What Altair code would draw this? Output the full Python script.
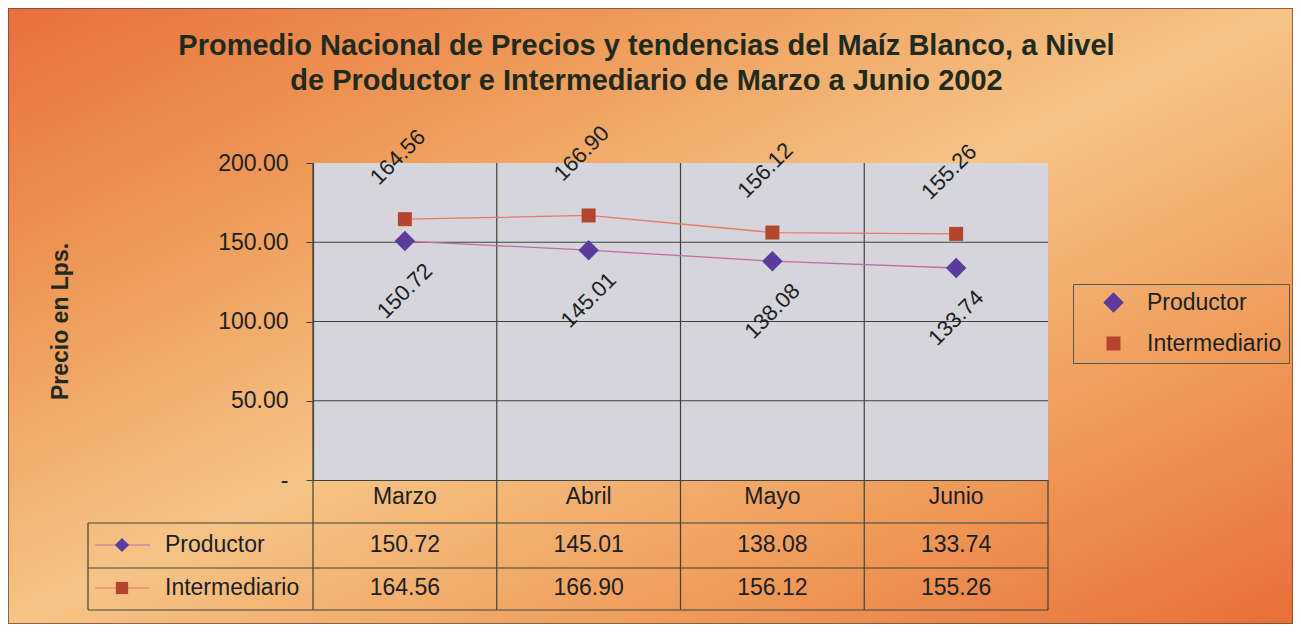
import altair as alt
import pandas as pd

# ---------------- data ----------------
months = ["Marzo", "Abril", "Mayo", "Junio"]
productor = [150.72, 145.01, 138.08, 133.74]
intermediario = [164.56, 166.90, 156.12, 155.26]
series = ["Productor", "Intermediario"]
y_ticks = [0, 50, 100, 150, 200]
grid_values = [50, 100, 150]

title_lines = [
    "Promedio Nacional de Precios y tendencias del Maíz Blanco, a Nivel",
    "de Productor e Intermediario de Marzo a Junio 2002",
]

# ---------------- layout / style ----------------
W, H = 735, 317
PAD_L, PAD_T, PAD_R, PAD_B = 305, 155, 245, 144
FONT = "Liberation Sans"
TXT = "#1c1f24"
GRID = "#3d443d"
FS = 23
NB = "\u00a0"

marker_colors = ["#5b3c9c", "#b5442e"]
line_colors = ["#c46aa8", "#e57b66"]
shapes = ["diamond", "square"]
marker_sizes = [420, 196]

# table geometry (pixels relative to plot area)
ROW_Y = {"Productor": 382, "Intermediario": 425}
TABLE_LINES_Y = [360, 405, 447]
TABLE_LEFT = -225
TABLE_BOTTOM = 447

rows = []
for i, m in enumerate(months):
    rows.append({"mes": m, "serie": "Productor", "precio": productor[i]})
    rows.append({"mes": m, "serie": "Intermediario", "precio": intermediario[i]})
df = pd.DataFrame(rows)
grid_df = pd.DataFrame({"precio": grid_values})
one = pd.DataFrame({"k": [0]})

x_scale = alt.Scale(domain=months, paddingInner=0, paddingOuter=0)
y_scale = alt.Scale(domain=[0, 200], nice=False, zero=True)

X_AX = alt.X(
    "mes:N", sort=months, scale=x_scale,
    axis=alt.Axis(title=None, labelAngle=0, labelFontSize=FS, labelFont=FONT,
                  labelColor=TXT, labelPadding=16, ticks=False, grid=False,
                  bandPosition=0.5, labelAlign="center",
                  domain=True, domainColor=GRID, domainWidth=1.2, zindex=1),
)
Y_AX = alt.Y(
    "precio:Q", scale=y_scale,
    axis=alt.Axis(values=y_ticks,
                  labelExpr="datum.value == 0 ? '-" + NB * 4 + "' : format(datum.value, '.2f')",
                  labelFontSize=FS, labelFont=FONT, labelColor=TXT, labelPadding=18,
                  tickSize=7, tickColor=GRID, domainColor=GRID, domainWidth=1.2,
                  grid=False, zindex=1,
                  title="Precio en Lps.", titleFont=FONT, titleFontSize=23,
                  titleFontWeight="bold", titleColor="#1f2b1f",
                  titleAngle=270, titleX=-253, titleY=158,
                  titleAlign="center", titleBaseline="middle"),
)
X = alt.X("mes:N", sort=months, scale=x_scale)
Y = alt.Y("precio:Q", scale=y_scale)

# background gradient
bg = alt.Chart(one).mark_rect(
    color=alt.LinearGradient(
        gradient="linear", x1=0, y1=0, x2=1, y2=1,
        stops=[alt.GradientStop(offset=0, color="#e8703a"),
               alt.GradientStop(offset=0.25, color="#ee9a58"),
               alt.GradientStop(offset=0.5, color="#f5c486"),
               alt.GradientStop(offset=0.75, color="#ef9c5a"),
               alt.GradientStop(offset=1, color="#e86e38")]),
    stroke="#6b4a30", strokeWidth=1.5,
).encode(x=alt.value(-PAD_L), x2=alt.value(W + PAD_R),
         y=alt.value(-PAD_T), y2=alt.value(H + PAD_B))

plot_bg = alt.Chart(one).mark_rect(color="#d5d5db").encode(
    x=alt.value(0), x2=alt.value(W), y=alt.value(0), y2=alt.value(H))

hgrid = alt.Chart(grid_df).mark_rule(color=GRID, strokeWidth=1.2).encode(
    y=Y, x=alt.value(0), x2=alt.value(W))

vrules = alt.Chart(df[df.serie == "Productor"]).mark_rule(color=GRID, strokeWidth=1.2).encode(
    x=alt.X("mes:N", sort=months, scale=x_scale, bandPosition=0),
    y=alt.value(0), y2=alt.value(TABLE_BOTTOM))

right_rule = alt.Chart(one).mark_rule(color=GRID, strokeWidth=1.2).encode(
    x=alt.value(W), y=alt.value(H), y2=alt.value(TABLE_BOTTOM))
left_rule = alt.Chart(one).mark_rule(color=GRID, strokeWidth=1.2).encode(
    x=alt.value(TABLE_LEFT), y=alt.value(TABLE_LINES_Y[0]), y2=alt.value(TABLE_BOTTOM))
table_hlines = [
    alt.Chart(one).mark_rule(color=GRID, strokeWidth=1.2).encode(
        x=alt.value(TABLE_LEFT), x2=alt.value(W), y=alt.value(yy))
    for yy in TABLE_LINES_Y
]

layers = [bg, plot_bg, hgrid, vrules, right_rule, left_rule] + table_hlines

# series lines (carry the axes)
for s, lc in zip(series, line_colors):
    layers.append(
        alt.Chart(df).transform_filter(alt.datum.serie == s)
        .mark_line(color=lc, strokeWidth=1.3)
        .encode(x=X_AX, y=Y_AX)
    )

# markers (with legend)
points = alt.Chart(df).mark_point(filled=True, opacity=1, strokeWidth=0).encode(
    x=X, y=Y,
    color=alt.Color("serie:N", scale=alt.Scale(domain=series, range=marker_colors),
                    legend=alt.Legend(title=None, orient="none", legendX=760, legendY=121,
                                      strokeColor="#5a5a50", padding=7, labelFont=FONT,
                                      labelFontSize=FS, labelColor=TXT, symbolSize=170,
                                      rowPadding=17, symbolOffset=22, labelOffset=22,
                                      symbolStrokeWidth=0)),
    shape=alt.Shape("serie:N", scale=alt.Scale(domain=series, range=shapes), legend=None),
    size=alt.Size("serie:N", scale=alt.Scale(domain=series, range=marker_sizes), legend=None),
)
layers.append(points)

# data labels
label_offsets = {"Productor": (0, 50), "Intermediario": (-7, -62)}
for s in series:
    dx, dy = label_offsets[s]
    layers.append(
        alt.Chart(df).transform_filter(alt.datum.serie == s)
        .mark_text(angle=315, fontSize=22, font=FONT, color=TXT, xOffset=dx, yOffset=dy,
                   align="center", baseline="middle")
        .encode(x=X, y=Y, text=alt.Text("precio:Q", format=".2f"))
    )

# data table values
for s in series:
    layers.append(
        alt.Chart(df).transform_filter(alt.datum.serie == s)
        .mark_text(fontSize=FS, font=FONT, color=TXT, align="center", baseline="middle")
        .encode(x=X, y=alt.value(ROW_Y[s]), text=alt.Text("precio:Q", format=".2f"))
    )

# data table row headers with series keys
for s, lc, mc, shp in zip(series, line_colors, marker_colors, shapes):
    sub = df[(df.serie == s) & (df.mes == months[0])]
    layers.append(alt.Chart(sub).mark_text(fontSize=FS, font=FONT, color=TXT, align="left",
                                           baseline="middle")
                  .encode(x=alt.value(-148), y=alt.value(ROW_Y[s]), text="serie:N"))
    layers.append(alt.Chart(sub).mark_rule(color=lc, strokeWidth=1.2)
                  .encode(x=alt.value(-218), x2=alt.value(-163), y=alt.value(ROW_Y[s])))
    layers.append(alt.Chart(sub).mark_point(shape=shp, filled=True, opacity=1, color=mc,
                                            size=200 if shp == "diamond" else 150, strokeWidth=0)
                  .encode(x=alt.value(-191), y=alt.value(ROW_Y[s])))

chart = alt.layer(*layers).properties(
    width=W, height=H,
    title=alt.TitleParams(text=title_lines, font=FONT, fontSize=29, fontWeight="bold",
                          color="#1f2b1f", lineHeight=35, anchor="middle", dx=-34,
                          offset=0, dy=89),
    autosize=alt.AutoSizeParams(type="none"),
    padding={"left": PAD_L, "top": PAD_T, "right": PAD_R, "bottom": PAD_B},
).configure_view(stroke=None)

chart.save("out.html", embed_options={"renderer": "svg", "actions": False})
